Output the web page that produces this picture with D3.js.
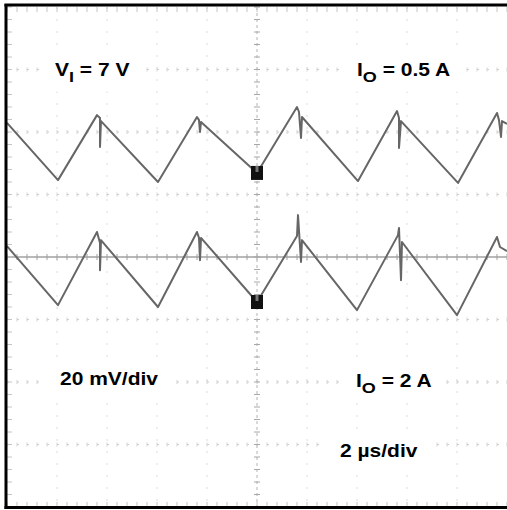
<!DOCTYPE html>
<html>
<head>
<meta charset="utf-8">
<script src="https://cdn.jsdelivr.net/npm/d3@7"></script>
<style>
  body { margin: 0; background: #fff; }
  svg { display: block; }
  text { font-family: "Liberation Sans", Arial, sans-serif; font-weight: bold; fill: #000; }
</style>
</head>
<body>
<div id="scope"></div>
<script>
// screen is 10 div x 8 div, 2 us/div and 20 mV/div
var timeDomain = [0, 20];     // us
var voltDomain = [-80, 80];   // mV

// upper trace, IO = 0.5 A
var t1 = [0, 2.04, 3.6, 3.72, 3.72, 3.76, 6.04, 7.6, 7.68, 7.72, 7.76, 10.0, 11.6, 11.68, 11.76, 11.8,
          14.04, 15.6, 15.68, 15.68, 15.76, 18.04, 19.6, 19.68, 19.76, 19.8, 20];
var v1 = [42.9, 24.6, 45.4, 44.5, 35.2, 43.5, 24.0, 44.8, 43.8, 40.0, 43.2, 26.9, 48.0, 46.4, 38.1, 44.8,
          24.3, 46.7, 44.5, 34.9, 43.5, 23.7, 46.1, 43.8, 38.4, 43.5, 42.6];

// lower trace, IO = 2 A
var t2 = [0, 2.04, 3.6, 3.72, 3.72, 3.76, 6.04, 7.6, 7.68, 7.72, 7.76, 10.0, 11.6, 11.64, 11.76, 11.8,
          14.0, 15.64, 15.68, 15.76, 15.8, 18.0, 19.6, 19.72, 20];
var v2 = [3.5, -15.4, 8.0, 4.5, -4.2, 5.4, -16.0, 8.0, 6.1, -1.0, 6.1, -14.4, 6.7, 13.4, -1.6, 5.4,
          -17.0, 7.0, 9.3, -7.4, 4.8, -18.6, 6.4, 3.2, 1.9];

// trigger marks on each trace
var markT = [10, 10];
var markV = [26.9, -14.4];

var W = 507, H = 510;
var scrL = 7, scrR = 507, scrT = 7, scrB = 507;

var svg = d3.select("#scope").append("svg")
    .attr("width", W)
    .attr("height", H);

var x = d3.scaleLinear().domain(timeDomain).range([scrL, scrR]);
var y = d3.scaleLinear().domain(voltDomain).range([scrB, scrT]);

var majorX = d3.range(timeDomain[0], timeDomain[1] + 0.01, 2);
var majorY = d3.range(voltDomain[0], voltDomain[1] + 0.01, 20);
var minorX = d3.range(timeDomain[0], timeDomain[1] + 0.01, 0.4);
var minorY = d3.range(voltDomain[0], voltDomain[1] + 0.01, 4);

var grid = svg.append("g");

// faint vertical graticule
grid.selectAll(".vg")
  .data(majorX.filter(function(d) { return d > 0 && d < 20 && d != 10; }))
  .enter().append("line")
    .attr("x1", function(d) { return x(d); })
    .attr("x2", function(d) { return x(d); })
    .attr("y1", scrT).attr("y2", scrB)
    .attr("stroke", "#dcdcdc")
    .attr("stroke-width", 1)
    .attr("stroke-dasharray", "2,10");

// horizontal graticule, dotted
grid.selectAll(".hg")
  .data(majorY.filter(function(d) { return d > -80 && d < 80 && d != 0; }))
  .enter().append("line")
    .attr("x1", scrL).attr("x2", scrR)
    .attr("y1", function(d) { return y(d); })
    .attr("y2", function(d) { return y(d); })
    .attr("stroke", "#cccccc")
    .attr("stroke-width", 1.2)
    .attr("stroke-dasharray", "2,8");

// small crosses on horizontal graticule lines
majorY.filter(function(d) { return d > -80 && d < 80 && d != 0; }).forEach(function(v) {
  grid.selectAll(null)
    .data(minorX)
    .enter().append("line")
      .attr("x1", function(d) { return x(d); })
      .attr("x2", function(d) { return x(d); })
      .attr("y1", y(v) - 2).attr("y2", y(v) + 2)
      .attr("stroke", "#d2d2d2");
});

// center horizontal axis
grid.append("line")
  .attr("x1", scrL).attr("x2", scrR)
  .attr("y1", y(0)).attr("y2", y(0))
  .attr("stroke", "#a0a0a0")
  .attr("stroke-width", 1.5);
grid.selectAll(".cx")
  .data(minorX)
  .enter().append("line")
    .attr("x1", function(d) { return x(d); })
    .attr("x2", function(d) { return x(d); })
    .attr("y1", y(0) - 3).attr("y2", y(0) + 3)
    .attr("stroke", "#a0a0a0");

// center vertical axis
grid.append("line")
  .attr("x1", x(10)).attr("x2", x(10))
  .attr("y1", scrT).attr("y2", scrB)
  .attr("stroke", "#c0c0c0")
  .attr("stroke-width", 1.2)
  .attr("stroke-dasharray", "3,3");
grid.selectAll(".cy")
  .data(minorY)
  .enter().append("line")
    .attr("x1", x(10) - 3).attr("x2", x(10) + 3)
    .attr("y1", function(d) { return y(d); })
    .attr("y2", function(d) { return y(d); })
    .attr("stroke", "#a8a8a8");

// edge ticks
grid.selectAll(".ty")
  .data(minorY)
  .enter().append("line")
    .attr("x1", scrL).attr("x2", scrL + 5)
    .attr("y1", function(d) { return y(d); })
    .attr("y2", function(d) { return y(d); })
    .attr("stroke", "#c4c4c4");
grid.selectAll(".tt")
  .data(minorX)
  .enter().append("line")
    .attr("x1", function(d) { return x(d); })
    .attr("x2", function(d) { return x(d); })
    .attr("y1", scrT).attr("y2", scrT + 5)
    .attr("stroke", "#c4c4c4");
grid.selectAll(".tb")
  .data(minorX)
  .enter().append("line")
    .attr("x1", function(d) { return x(d); })
    .attr("x2", function(d) { return x(d); })
    .attr("y1", scrB - 5).attr("y2", scrB)
    .attr("stroke", "#c4c4c4");

// labels with white patches over the graticule
var labels = [
  { main: "V", sub: "I", rest: " = 7 V", x: 55, y: 76 },
  { main: "I", sub: "O", rest: " = 0.5 A", x: 357, y: 76 },
  { main: "20 mV/div", sub: "", rest: "", x: 60, y: 385 },
  { main: "I", sub: "O", rest: " = 2 A", x: 356, y: 387 },
  { main: "2 \u00b5s/div", sub: "", rest: "", x: 340, y: 457 }
];

var lab = svg.append("g");
labels.forEach(function(d) {
  var g = lab.append("g")
    .attr("transform", "translate(" + d.x + "," + d.y + ") scale(1.2,1)");
  var patch = g.append("rect").attr("fill", "#fff");
  var t = g.append("text").style("font-size", "17.5px");
  t.append("tspan").text(d.main);
  if (d.sub) {
    t.append("tspan").attr("dy", 6).style("font-size", "15px").text(d.sub);
    t.append("tspan").attr("dy", -6).text(d.rest);
  }
  var b = t.node().getBBox();
  patch.attr("x", b.x - 12).attr("y", b.y - 8)
    .attr("width", b.width + 24).attr("height", b.height + 14);
});

// traces
var line = d3.line()
  .x(function(d) { return x(d[0]); })
  .y(function(d) { return y(d[1]); });

var traces = svg.append("g");
[[t1, v1], [t2, v2]].forEach(function(s) {
  traces.append("path")
    .datum(d3.zip(s[0], s[1]))
    .attr("d", line)
    .attr("fill", "none")
    .attr("stroke", "#666")
    .attr("stroke-width", 2)
    .attr("stroke-linejoin", "round");
});

// trigger marks
d3.zip(markT, markV).forEach(function(m) {
  var cx = x(m[0]), cy = y(m[1]);
  traces.append("rect")
    .attr("x", cx - 6).attr("y", cy - 7)
    .attr("width", 12).attr("height", 14)
    .attr("fill", "#111");
  traces.append("rect")
    .attr("x", cx - 1.5).attr("y", cy - 7)
    .attr("width", 3).attr("height", 6)
    .attr("fill", "#777");
});

// frame: left, top, bottom
var frame = svg.append("g").attr("stroke", "#000").attr("stroke-width", 3);
frame.append("line").attr("x1", 6).attr("x2", 6).attr("y1", 4).attr("y2", 509);
frame.append("line").attr("x1", 4.5).attr("x2", W).attr("y1", 5).attr("y2", 5);
frame.append("line").attr("x1", 4.5).attr("x2", W).attr("y1", 507.5).attr("y2", 507.5);
</script>
</body>
</html>
